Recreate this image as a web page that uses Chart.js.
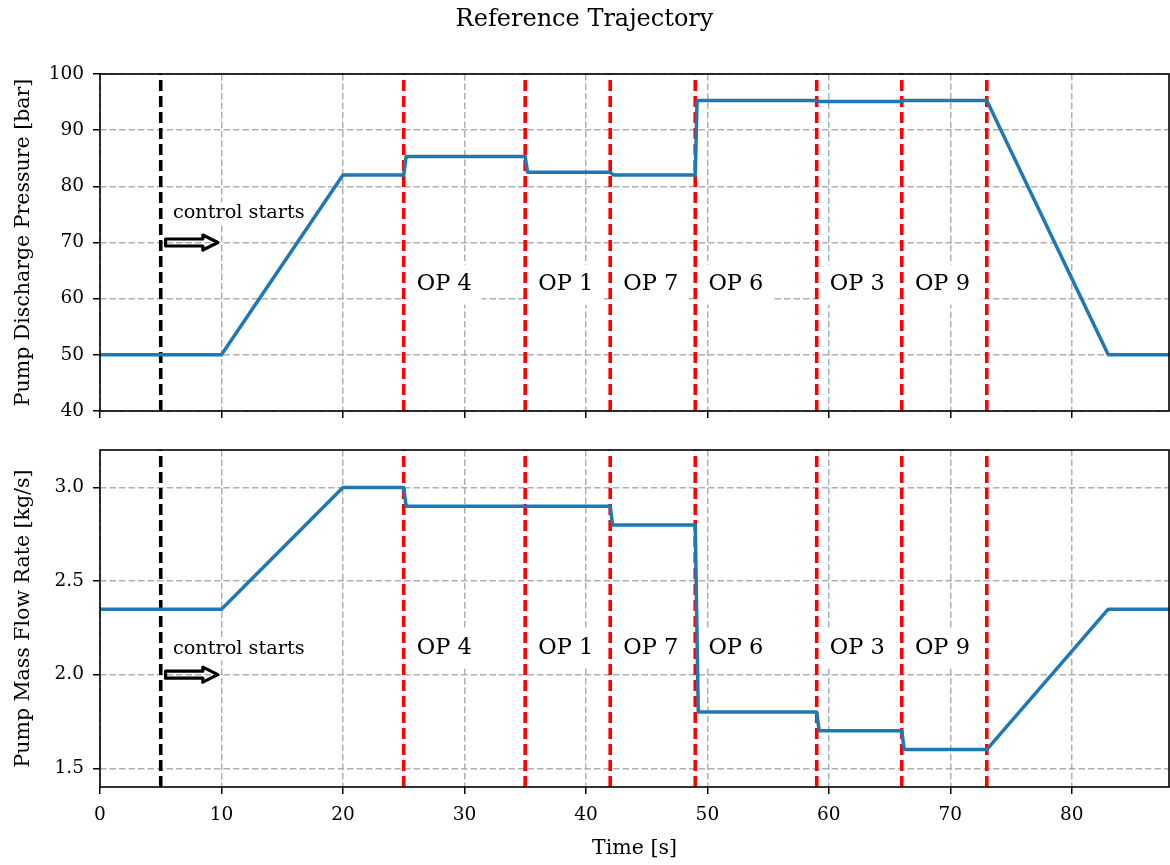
<!DOCTYPE html>
<html>
<head>
<meta charset="utf-8">
<title>Reference Trajectory</title>
<script src="https://cdn.jsdelivr.net/npm/chart.js@4/dist/chart.umd.min.js"></script>
<style>
  html, body { margin: 0; padding: 0; background: #ffffff; }
  #wrap { position: relative; width: 1170px; height: 865px; }
  #wrap canvas { position: absolute; left: 0; top: 0; }
</style>
</head>
<body>
<div id="wrap">
  <canvas id="flowChart" width="1170" height="865"></canvas>
  <canvas id="pressureChart" width="1170" height="865"></canvas>
</div>
<script>
// ---- data -------------------------------------------------------------
const timeTicks = [0, 10, 20, 30, 40, 50, 60, 70, 80];
const pressureTicks = [40, 50, 60, 70, 80, 90, 100];
const flowTicks = [1.5, 2.0, 2.5, 3.0];

// operating-point switch times [s] and the point held after each switch
const switchTimes = [25, 35, 42, 49, 59, 66, 73];
const opNames = ['OP 4', 'OP 1', 'OP 7', 'OP 6', 'OP 3', 'OP 9'];
const controlStartTime = 5;

// pump discharge pressure reference [bar]
const pressureTime = [0, 10, 20, 25, 25.2, 35, 35.2, 42, 42.3, 49, 49.15, 59, 59.2, 66, 66.2, 73, 83, 88];
const pressureBar  = [50, 50, 82, 82, 85.3, 85.3, 82.5, 82.5, 82.0, 82.0, 95.3, 95.3, 95.1, 95.1, 95.3, 95.3, 50, 50];

// pump mass flow rate reference [kg/s]
const flowTime = [0, 10, 20, 25, 25.2, 42, 42.2, 49, 49.25, 59, 59.2, 66, 66.2, 73, 83, 88];
const flowKgs  = [2.35, 2.35, 3.0, 3.0, 2.9, 2.9, 2.8, 2.8, 1.8, 1.8, 1.7, 1.7, 1.6, 1.6, 2.35, 2.35];

// ---- styling ----------------------------------------------------------
const SERIF = '"DejaVu Serif", "Liberation Serif", serif';
const BLUE = '#1f77b4';
const GRID = '#b0b0b0';
const X_MIN = 0, X_MAX = 88;

function toPoints(xs, ys) { return xs.map((x, i) => ({ x: x, y: ys[i] })); }

function markerSets(yMin, yMax) {
  const sets = switchTimes.map(t => ({
    data: [{ x: t, y: yMin }, { x: t, y: yMax }],
    borderColor: '#ff0000', borderWidth: 3.6, borderDash: [11, 5],
    borderCapStyle: 'butt', pointRadius: 0, order: 2
  }));
  sets.push({
    data: [{ x: controlStartTime, y: yMin }, { x: controlStartTime, y: yMax }],
    borderColor: '#000000', borderWidth: 3.6, borderDash: [11, 5],
    borderCapStyle: 'butt', pointRadius: 0, order: 2
  });
  return sets;
}

// text, arrow and frame drawn on top of the plot area
function annotationPlugin(cfg) {
  const opFont = '22.5px ' + SERIF;
  const noteFont = '19.3px ' + SERIF;
  return {
    id: 'annotations',
    beforeDatasetsDraw(chart) {
      const { ctx, scales: { x, y } } = chart;
      ctx.save();
      ctx.fillStyle = '#ffffff';
      ctx.font = opFont;
      opNames.forEach((name, i) => {
        const px = x.getPixelForValue(switchTimes[i] + cfg.labelShift);
        const py = y.getPixelForValue(cfg.labelLevel);
        const w = ctx.measureText(name).width;
        ctx.fillRect(px - 9, py - 20, w + 20, 40);
      });
      ctx.font = noteFont;
      const nx = x.getPixelForValue(cfg.noteX);
      const ny = y.getPixelForValue(cfg.noteLevel);
      const nw = ctx.measureText('control starts').width;
      ctx.fillRect(nx - 3, ny - 11, nw + 6, 22);
      ctx.restore();
    },
    afterDatasetsDraw(chart) {
      const { ctx, scales: { x, y } } = chart;
      ctx.save();
      ctx.fillStyle = '#000000';
      ctx.textBaseline = 'middle';
      ctx.textAlign = 'left';
      ctx.font = opFont;
      opNames.forEach((name, i) => {
        ctx.fillText(name, x.getPixelForValue(switchTimes[i] + cfg.labelShift) + 1,
                     y.getPixelForValue(cfg.labelLevel));
      });
      ctx.font = noteFont;
      ctx.fillText('control starts', x.getPixelForValue(cfg.noteX), y.getPixelForValue(cfg.noteLevel));

      // hollow arrow pointing right
      const x0 = x.getPixelForValue(cfg.arrowFrom);
      const x1 = x.getPixelForValue(cfg.arrowTo);
      const ay = y.getPixelForValue(cfg.arrowLevel);
      const bodyH = 3.5, headH = 7.5, headL = 15;
      ctx.beginPath();
      ctx.moveTo(x0, ay - bodyH);
      ctx.lineTo(x1 - headL, ay - bodyH);
      ctx.lineTo(x1 - headL, ay - headH);
      ctx.lineTo(x1, ay);
      ctx.lineTo(x1 - headL, ay + headH);
      ctx.lineTo(x1 - headL, ay + bodyH);
      ctx.lineTo(x0, ay + bodyH);
      ctx.closePath();
      ctx.lineWidth = 3.2;
      ctx.lineJoin = 'round';
      ctx.strokeStyle = '#000000';
      ctx.stroke();
      ctx.restore();
    },
    afterDraw(chart) {
      const { ctx, chartArea: a } = chart;
      ctx.save();
      ctx.lineWidth = 1.6;
      ctx.strokeStyle = '#000000';
      ctx.strokeRect(a.left, a.top, a.right - a.left, a.bottom - a.top);
      ctx.restore();
    }
  };
}

function xScale(showLabels, height) {
  return {
    type: 'linear', min: X_MIN, max: X_MAX,
    afterBuildTicks: s => { s.ticks = timeTicks.map(v => ({ value: v })); },
    afterFit: s => { s.height = height; },
    grid: { color: GRID, lineWidth: 1.5, tickLength: 7, tickColor: '#000000', tickWidth: 1.5, tickBorderDash: [] },
    border: { display: false, dash: [6.5, 3] },
    ticks: {
      display: showLabels, color: '#000000', padding: 10, maxRotation: 0,
      font: { family: SERIF, size: 18.5 }, callback: v => String(v)
    },
    title: {
      display: showLabels, text: 'Time [s]', color: '#000000',
      font: { family: SERIF, size: 20.5 }, padding: { top: 0, bottom: 4 }
    }
  };
}

function yScale(min, max, ticks, label, fmt) {
  return {
    type: 'linear', min: min, max: max,
    afterBuildTicks: s => { s.ticks = ticks.map(v => ({ value: v })); },
    afterFit: s => { s.width = 100; },
    grid: { color: GRID, lineWidth: 1.5, tickLength: 7, tickColor: '#000000', tickWidth: 1.5, tickBorderDash: [] },
    border: { display: false, dash: [6.5, 3] },
    ticks: { color: '#000000', padding: 9, font: { family: SERIF, size: 18.5 }, callback: fmt },
    title: {
      display: true, text: label, color: '#000000',
      font: { family: SERIF, size: 20.5 }, padding: { top: 11, bottom: 0 }
    }
  };
}

const common = {
  responsive: false,
  animation: false,
  events: [],
  plugins: { legend: { display: false }, tooltip: { enabled: false } },
  elements: { line: { tension: 0 } }
};

// upper panel: discharge pressure
new Chart(document.getElementById('pressureChart'), {
  type: 'line',
  data: {
    datasets: [{
      data: toPoints(pressureTime, pressureBar),
      borderColor: BLUE, borderWidth: 3.5, pointRadius: 0,
      borderJoinStyle: 'round', order: 1
    }].concat(markerSets(40, 100))
  },
  options: Object.assign({}, common, {
    layout: { padding: { left: 0, right: 1, top: 0, bottom: 0 } },
    plugins: Object.assign({}, common.plugins, {
      title: {
        display: true, text: 'Reference Trajectory', color: '#000000',
        font: { family: SERIF, size: 24, weight: 'normal' },
        padding: { top: 5, bottom: 40.2 }
      }
    }),
    scales: {
      x: xScale(false, 454),
      y: yScale(40, 100, pressureTicks, 'Pump Discharge Pressure [bar]', v => String(v))
    }
  }),
  plugins: [annotationPlugin({
    labelShift: 1, labelLevel: 62.5,
    noteX: 6, noteLevel: 75.2,
    arrowFrom: 5.4, arrowTo: 9.7, arrowLevel: 70
  })]
});

// lower panel: mass flow rate
new Chart(document.getElementById('flowChart'), {
  type: 'line',
  data: {
    datasets: [{
      data: toPoints(flowTime, flowKgs),
      borderColor: BLUE, borderWidth: 3.5, pointRadius: 0,
      borderJoinStyle: 'round', order: 1
    }].concat(markerSets(1.4, 3.2))
  },
  options: Object.assign({}, common, {
    layout: { padding: { left: 0, right: 1, top: 450, bottom: 0 } },
    scales: {
      x: xScale(true, 78),
      y: yScale(1.4, 3.2, flowTicks, 'Pump Mass Flow Rate [kg/s]', v => Number(v).toFixed(1))
    }
  }),
  plugins: [annotationPlugin({
    labelShift: 1, labelLevel: 2.14,
    noteX: 6, noteLevel: 2.135,
    arrowFrom: 5.4, arrowTo: 9.7, arrowLevel: 2.0
  })]
});
</script>
</body>
</html>
